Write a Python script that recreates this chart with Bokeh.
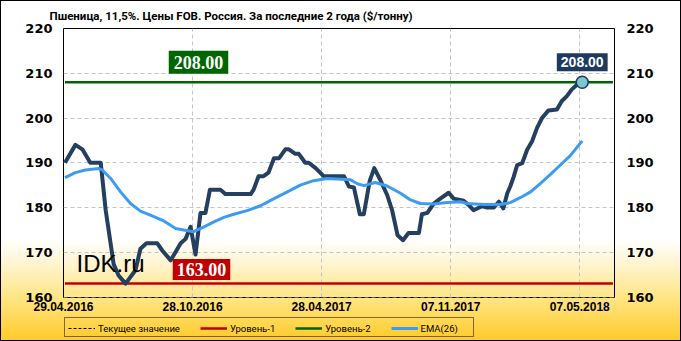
from bokeh.plotting import figure
from bokeh.layouts import column
from bokeh.models import Range1d, FixedTicker, LinearAxis, Label, Legend, LegendItem
from bokeh.embed import file_html
from bokeh.resources import INLINE

TITLE = "Пшеница,  11,5%.  Цены FOB.  Россия.  За последние 2 года ($/тонну)"

x_tick_pos = [0, 26, 52, 78, 104]
x_tick_labels = ["29.04.2016", "28.10.2016", "28.04.2017", "07.11.2017", "07.05.2018"]
y_ticks = [160, 170, 180, 190, 200, 210, 220]

# weekly price (x = week index from 29.04.2016)
price_x = [0.3, 2.4, 3.8, 5.4, 7.5, 8.5, 10.1, 11.1, 12.5, 14.5, 15.5, 16.7, 18.9, 19.9,
           21.6, 23.6, 24.6, 25.6, 26.6, 27.6, 28.6, 29.5, 31.6, 32.6, 37.7, 38.3, 39.3,
           40.3, 41.3, 42.4, 43.4, 44.7, 45.4, 46.7, 47.4, 48.7, 49.4, 50.8, 52.4, 56.5,
           57.5, 58.5, 59.7, 60.5, 61.7, 62.6, 63.8, 65.2, 66.2, 67.3, 68.4, 69.5, 71.6,
           72.2, 73.3, 74.6, 75.9, 77.6, 78.6, 80.6, 81.6, 82.6, 84.3, 85.3, 86.7, 87.7,
           88.6, 89.4, 90.0, 90.7, 91.4, 92.4, 93.4, 94.4, 95.4, 96.4, 97.7, 99.4, 100.4,
           101.4, 102.4, 103.5, 104.5]
price_y = [190, 194, 193, 190, 190, 179.4, 167.4, 164.8, 163, 166, 170.8, 172, 172, 170.4,
           168.2, 172, 173, 175.7, 169.5, 178.8, 178.8, 184, 184, 183, 183, 184, 187,
           187, 187.8, 191, 191, 193, 193, 192, 192, 190, 190, 188.8, 187, 187,
           184.7, 184.5, 178.5, 178.5, 186, 188.8, 186.2, 182.8, 179.4, 173.8, 172.7, 174.3, 174.3,
           178.5, 178.8, 180.9, 182, 183.3, 182, 181.5, 180.6, 179.4, 180.3, 180, 180, 181.3,
           179.8, 183.2, 184.7, 186.9, 189.5, 189.9, 192.9, 194.8, 197.8, 200, 201.7, 201.9, 203.8,
           204.9, 206.4, 207.5, 208]

ema_x = [0.3, 2.4, 4.4, 7.1, 7.8, 9.5, 11.5, 13.5, 15.5, 17.5, 20.2, 22.6, 24.2, 26.2,
         28.3, 30.3, 32.3, 34.3, 37.0, 39.7, 42.4, 45.1, 47.7, 50.4, 53.1, 55.1, 57.8,
         59.2, 60.5, 62.8, 65.2, 67.9, 69.9, 71.9, 74.6, 77.3, 80.0, 81.3, 84.7, 88.0,
         90.0, 92.0, 94.1, 96.1, 98.1, 100.1, 102.1, 104.5]
ema_y = [186.7, 187.8, 188.4, 188.7, 188.4, 186.5, 183.5, 180.9, 179.2, 178.3, 177, 175.3, 175, 174.6,
         175.7, 176.8, 177.8, 178.5, 179.3, 180.4, 182, 183.5, 185, 186, 186.5, 186.4, 186.2,
         185.3, 184.9, 185.6, 184.8, 183.2, 181.7, 180.9, 180.8, 181.1, 181.3, 180.9, 180.7, 180.7,
         181.1, 182.2, 183.5, 185.4, 187.4, 189.5, 191.6, 194.9]

LEVEL_1 = 163.00
LEVEL_2 = 208.00
CURRENT = price_y[-1]

legend_labels = ["Текущее значение", "Уровень-1", "Уровень-2", "EMA(26)"]

X_START, X_END = 0, 111
line_x = [0.3, 110.7]

CUR_STYLE = dict(line_color="black", line_dash="3 2", line_width=1)
L1_STYLE = dict(line_color="#C00000", line_width=2.5)
L2_STYLE = dict(line_color="#006400", line_width=2.5)
PRICE_STYLE = dict(line_color="#243F60", line_width=4)
EMA_STYLE = dict(line_color="#3D9CF2", line_width=3)

p = figure(width=681, height=315, output_backend="svg", toolbar_location=None, tools="",
           x_range=Range1d(X_START, X_END), y_range=Range1d(159.9, 220),
           min_border_left=63, min_border_right=67, min_border_top=28, min_border_bottom=18)
p.border_fill_alpha = 0
p.background_fill_alpha = 0
p.outline_line_color = "black"
p.outline_line_width = 1

# title
p.title.text = TITLE
p.title.align = "left"
p.title.offset = -14
p.title.standoff = 12
p.title.text_font = "Roboto"
p.title.text_font_style = "bold"
p.title.text_font_size = "11.5px"
p.title.text_color = "black"

# axes
p.xaxis.ticker = FixedTicker(ticks=x_tick_pos)
p.xaxis.major_label_overrides = {k: v for k, v in zip(x_tick_pos, x_tick_labels)}
p.yaxis.ticker = FixedTicker(ticks=y_ticks)
p.add_layout(LinearAxis(ticker=FixedTicker(ticks=y_ticks)), "right")

for ax in p.axis:
    ax.axis_line_color = None
    ax.major_tick_line_color = None
    ax.minor_tick_line_color = None
    ax.major_tick_out = 0
    ax.major_label_text_color = "black"
    ax.major_label_text_font_style = "bold"
p.xaxis.major_label_text_font = "Liberation Sans"
p.xaxis.major_label_text_font_size = "12px"
p.xaxis.major_label_standoff = 4
for ax in p.yaxis:
    ax.major_label_text_font = "DejaVu Sans"
    ax.major_label_text_font_size = "13px"
p.left[0].major_label_standoff = 11
p.right[0].major_label_standoff = 12

p.xgrid.ticker = FixedTicker(ticks=x_tick_pos)
p.ygrid.ticker = FixedTicker(ticks=y_ticks)
for g in (p.xgrid, p.ygrid):
    g.grid_line_color = "#C4C4C4"
    g.grid_line_dash = "4 3"
    g.grid_line_width = 1

# lines
p.line(line_x, [CURRENT, CURRENT], **CUR_STYLE)
p.line(line_x, [LEVEL_1, LEVEL_1], **L1_STYLE)
p.line(line_x, [LEVEL_2, LEVEL_2], **L2_STYLE)
p.line(price_x, price_y, line_join="round", **PRICE_STYLE)
p.line(ema_x, ema_y, line_join="round", **EMA_STYLE)
p.scatter([price_x[-1]], [price_y[-1]], size=12, fill_color="#7FC6CE",
          line_color="#1F3A5F", line_width=1.5)

# value boxes
p.add_layout(Label(x=135, y=LEVEL_2, x_units="screen", y_units="data", y_offset=20,
                   text=f"{LEVEL_2:.2f}", text_align="center", text_baseline="middle",
                   text_color="white", text_font="Liberation Serif", text_font_style="bold",
                   text_font_size="18px", background_fill_color="#006600", padding=5))
p.add_layout(Label(x=138, y=LEVEL_1, x_units="screen", y_units="data", y_offset=14,
                   text=f"{LEVEL_1:.2f}", text_align="center", text_baseline="middle",
                   text_color="white", text_font="Liberation Serif", text_font_style="bold",
                   text_font_size="18px", background_fill_color="#C00000", padding=4))
p.add_layout(Label(x=price_x[-1], y=CURRENT, y_offset=20,
                   text=f"{CURRENT:.2f}", text_align="center", text_baseline="middle",
                   text_color="white", text_font="Liberation Sans", text_font_style="bold",
                   text_font_size="14px", background_fill_color="#1F3A5F", padding=4))

# watermark
p.add_layout(Label(x=13, y=34, x_units="screen", y_units="screen", text="IDK.ru",
                   text_font="Liberation Sans", text_font_size="24px", text_color="black",
                   text_baseline="alphabetic"))

# legend strip (separate figure so the legend is not clipped)
lp = figure(width=681, height=26, output_backend="svg", toolbar_location=None, tools="",
            x_range=Range1d(0, 1), y_range=Range1d(0, 1), min_border=0,
            x_axis_location=None, y_axis_location=None)
lp.grid.visible = False
lp.outline_line_color = None
lp.border_fill_alpha = 0
lp.background_fill_alpha = 0

# legend sample renderers lie outside the strip's ranges, only their legend glyphs show
r_cur = lp.line(line_x, [CURRENT, CURRENT], **CUR_STYLE)
r_l1 = lp.line(line_x, [LEVEL_1, LEVEL_1], **L1_STYLE)
r_l2 = lp.line(line_x, [LEVEL_2, LEVEL_2], **L2_STYLE)
r_ema = lp.line(ema_x, ema_y, **EMA_STYLE)
r_box = lp.line(line_x, [CURRENT, CURRENT], line_alpha=0)

box_legend = Legend(items=[LegendItem(label=" ", renderers=[r_box])], location=(1, 4),
                    orientation="horizontal", padding=0, margin=0, glyph_width=1,
                    glyph_height=18, label_width=407, label_height=8, label_standoff=0,
                    label_text_font_size="6px", border_line_color="black",
                    border_line_width=1, background_fill_alpha=0)
lp.add_layout(box_legend, "center")

items = [LegendItem(label=t, renderers=[r]) for t, r in
         zip(legend_labels, [r_cur, r_l1, r_l2, r_ema])]
legend = Legend(items=items, location=(5, 7), orientation="horizontal", padding=0, margin=0,
                spacing=20, glyph_width=27, glyph_height=12, label_width=45, label_height=12,
                label_standoff=3, label_text_font="Roboto", label_text_font_size="9.5px",
                label_text_color="black", border_line_color=None, background_fill_alpha=0)
lp.add_layout(legend, "center")

layout = column(p, lp, spacing=0)
layout.styles = {"background": "linear-gradient(to bottom, #FFFFFF 0%, #FFFFFF 70%, #FFF5D2 77%, "
                               "#FFE47E 88%, #FFCA28 100%)",
                 "box-shadow": "inset 0 0 0 1px #000000"}

open("out.html", "w").write(file_html(layout, INLINE))
